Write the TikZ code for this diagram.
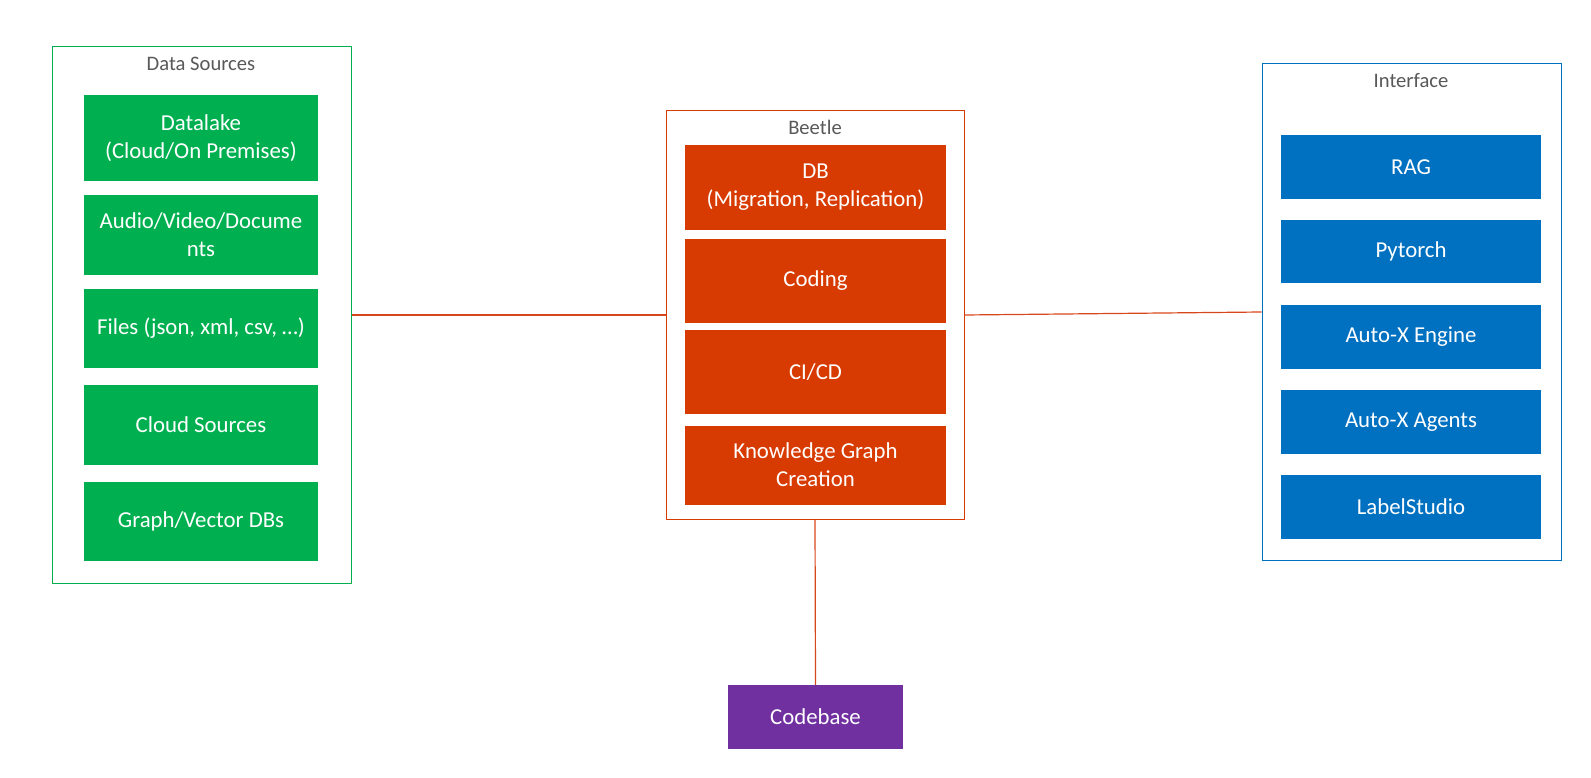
\documentclass[tikz,border=0pt]{standalone}
\usepackage{fontspec}
\setmainfont{Carlito}
\definecolor{cgreen}{HTML}{00B050}
\definecolor{corange}{HTML}{D83B01}
\definecolor{cblue}{HTML}{0070C0}
\definecolor{cpurple}{HTML}{7030A0}
\definecolor{cgray}{HTML}{595959}
\definecolor{cline}{HTML}{D8471B}
\tikzset{
  fillbox/.style={rectangle, inner sep=0pt, draw=none, text=white, align=center,
    font=\fontsize{22.8}{28}\selectfont},
  gbox/.style={fillbox, fill=cgreen, minimum width=234pt},
  obox/.style={fillbox, fill=corange, minimum width=261pt},
  bbox/.style={fillbox, fill=cblue, minimum width=260pt},
  pbox/.style={fillbox, fill=cpurple},
  groupbox/.style={rectangle, inner sep=0pt, fill=white, line width=1pt},
  grouptitle/.style={text=cgray, font=\fontsize{20.6}{24}\selectfont, inner sep=0pt},
  conn/.style={draw=cline, line width=1.2pt}
}
\begin{document}
\begin{tikzpicture}[x=1pt,y=-1pt]
\useasboundingbox (0,0) rectangle (1591,778);
% Data Sources
\node[groupbox, draw=cgreen, minimum width=299pt, minimum height=536pt] (ds) at (201.5,315) {};
\node[grouptitle] (dstitle) at (201,64) {Data Sources};
\node[gbox, minimum height=86pt] (dl) at (201,138) {Datalake\\(Cloud/On Premises)};
\node[gbox, minimum height=80pt] (av) at (201,235) {Audio/Video/Docume\\nts};
\node[gbox, minimum height=79pt] (fi) at (201,328.5) {Files (json, xml, csv, \dots)};
\node[gbox, minimum height=80pt] (cs) at (201,425) {Cloud Sources};
\node[gbox, minimum height=79pt] (gv) at (201,521.5) {Graph/Vector DBs};
% Beetle
\node[groupbox, draw=corange, minimum width=298pt, minimum height=408pt] (be) at (815,315) {};
\node[grouptitle] (betitle) at (815,127) {Beetle};
\node[obox, minimum height=85pt] (db) at (815.5,187.5) {DB\\(Migration, Replication)};
\node[obox, minimum height=83pt] (co) at (815.5,281) {Coding};
\node[obox, minimum height=84pt] (ci) at (815.5,372) {CI/CD};
\node[obox, minimum height=79pt] (kg) at (815.5,465) {Knowledge Graph\\Creation};
% Interface
\node[groupbox, draw=cblue, minimum width=299pt, minimum height=496pt] (if) at (1411.5,312) {};
\node[grouptitle] (iftitle) at (1411,81) {Interface};
\node[bbox, minimum height=64pt] (rag) at (1411,167) {RAG};
\node[bbox, minimum height=63pt] (py) at (1411,251.5) {Pytorch};
\node[bbox, minimum height=64pt] (en) at (1411,337) {Auto-X Engine};
\node[bbox, minimum height=64pt] (ag) at (1411,422) {Auto-X Agents};
\node[bbox, minimum height=64pt] (ls) at (1411,507) {LabelStudio};
% Codebase
\node[pbox, minimum width=175pt, minimum height=64pt] (cb) at (815.5,717) {Codebase};
% connectors
\draw[conn] (ds.east) -- (be.west);
\draw[conn] (be.east) -- (if.west);
\draw[conn] (be.south) -- (cb.north);
\end{tikzpicture}
\end{document}
